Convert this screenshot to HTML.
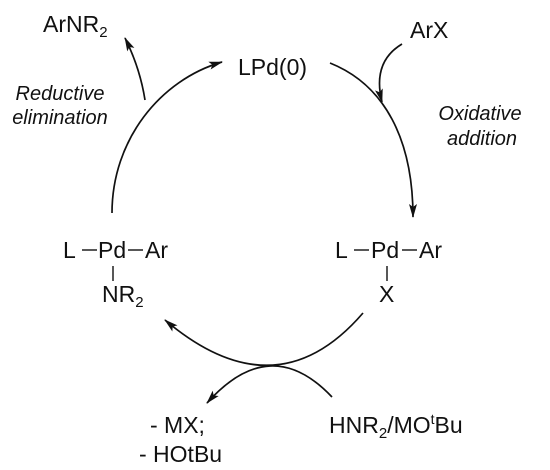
<!DOCTYPE html>
<html><head><meta charset="utf-8"><style>
html,body{margin:0;padding:0;background:#fff;}
svg{display:block;}
text{font-family:"Liberation Sans",Arial,sans-serif;fill:#111;}
</style></head><body>
<svg width="550" height="470" viewBox="0 0 550 470">
<defs>
<marker id="ah" viewBox="0 0 14 8" refX="13" refY="4" markerWidth="14" markerHeight="8" markerUnits="userSpaceOnUse" orient="auto">
<path d="M0,0 L14,4 L0,8 L3,4 Z" fill="#111"/>
</marker>
</defs>
<g fill="none" stroke="#111" stroke-width="1.7">
<path d="M112,213 C112,140 160,80 222,62" marker-end="url(#ah)"/>
<path d="M330,63 C385,85 413,140 413,217" marker-end="url(#ah)"/>
<path d="M145,100 Q140,68 125,38" marker-end="url(#ah)"/>
<path d="M402,44 Q372,62 382,102" marker-end="url(#ah)"/>
<path d="M363,313 Q276,414 165,320" marker-end="url(#ah)"/>
<path d="M332,397 Q270.5,332 207,403" marker-end="url(#ah)"/>
</g>
<g stroke="#111" stroke-width="1.4">
<line x1="82" y1="250" x2="97" y2="250"/>
<line x1="128" y1="250" x2="143" y2="250"/>
<line x1="113" y1="266" x2="113" y2="281"/>
<line x1="354" y1="250" x2="369" y2="250"/>
<line x1="402" y1="250" x2="417" y2="250"/>
<line x1="387" y1="266" x2="387" y2="281"/>
</g>
<text x="43" y="32" font-size="23">ArNR<tspan font-size="15" dy="5">2</tspan></text>
<text x="238" y="75" font-size="23">LPd(0)</text>
<text x="410" y="38" font-size="23">ArX</text>
<text font-size="20" font-style="italic" text-anchor="middle"><tspan x="60" y="100">Reductive</tspan><tspan x="60" y="124">elimination</tspan></text>
<text font-size="20" font-style="italic" text-anchor="middle"><tspan x="480" y="120">Oxidative</tspan><tspan x="482" y="145">addition</tspan></text>
<text x="63" y="258" font-size="23">L</text>
<text x="98" y="258" font-size="23">Pd</text>
<text x="145" y="258" font-size="23">Ar</text>
<text x="102" y="302" font-size="23">NR<tspan font-size="15" dy="5">2</tspan></text>
<text x="335" y="258" font-size="23">L</text>
<text x="371" y="258" font-size="23">Pd</text>
<text x="419" y="258" font-size="23">Ar</text>
<text x="379" y="302" font-size="23">X</text>
<text font-size="23"><tspan x="150" y="433">- MX;</tspan><tspan x="139" y="462">- HOtBu</tspan></text>
<text x="329" y="433" font-size="23">HNR<tspan font-size="15" dy="5">2</tspan><tspan dy="-5">/MO</tspan><tspan font-size="14" dy="-9">t</tspan><tspan dy="9">Bu</tspan></text>
</svg>
</body></html>
